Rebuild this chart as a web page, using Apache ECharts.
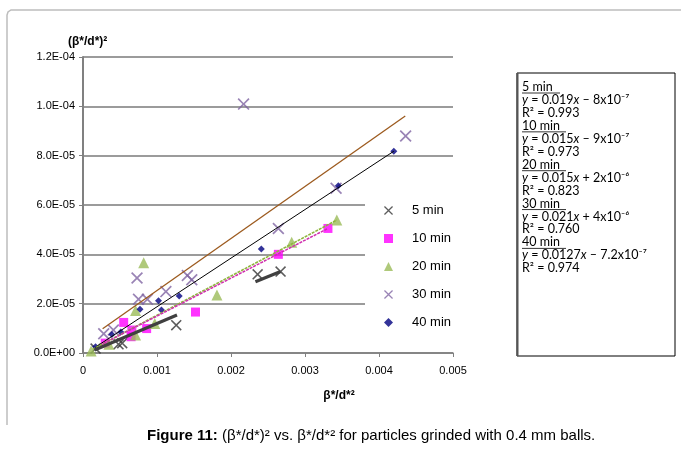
<!DOCTYPE html>
<html>
<head>
<meta charset="utf-8">
<style>
  html, body { margin: 0; padding: 0; background: #fff; }
  #chart { width: 681px; height: 454px; }
</style>
<script src="https://cdn.jsdelivr.net/npm/echarts@6/dist/echarts.min.js"></script>
</head>
<body>
<div id="chart"></div>
<script>
  // points: [beta*/d*^2, (beta*/d*)^2]
  var min5 = [[0.00017, 0.18e-5], [0.00048, 0.35e-5], [0.00053, 0.40e-5], [0.00126, 1.13e-5], [0.00236, 3.19e-5], [0.00267, 3.30e-5]];
  var min10 = [[0.00030, 0.40e-5], [0.00055, 1.24e-5], [0.00065, 0.66e-5], [0.00066, 0.93e-5], [0.00086, 0.99e-5], [0.00152, 1.66e-5], [0.00264, 4.00e-5], [0.00331, 5.05e-5]];
  var min20 = [[0.00011, 0.08e-5], [0.00035, 0.35e-5], [0.00071, 0.73e-5], [0.00071, 1.72e-5], [0.00082, 3.66e-5], [0.00097, 1.20e-5], [0.00181, 2.35e-5], [0.00282, 4.49e-5], [0.00343, 5.39e-5]];
  var min30 = [[0.00028, 0.78e-5], [0.00041, 0.93e-5], [0.00073, 3.04e-5], [0.00075, 2.18e-5], [0.00087, 2.18e-5], [0.00112, 2.49e-5], [0.00141, 3.14e-5], [0.00147, 2.97e-5], [0.00217, 10.09e-5], [0.00264, 5.05e-5], [0.00342, 6.68e-5], [0.00436, 8.80e-5]];
  var min40 = [[0.00017, 0.25e-5], [0.00039, 0.75e-5], [0.00051, 0.85e-5], [0.00077, 1.77e-5], [0.00102, 2.12e-5], [0.00106, 1.74e-5], [0.00130, 2.31e-5], [0.00241, 4.22e-5], [0.00345, 6.78e-5], [0.00420, 8.18e-5]];

  // trend line ends as drawn in the figure (5 min line is shown in two pieces)
  var trend5 = [[[0.000157, 0.12e-5], [0.00127, 1.54e-5]], [[0.00233, 2.89e-5], [0.00267, 3.30e-5]]];
  var trend10 = [[[0.00028, 0.39e-5], [0.00331, 5.05e-5]]];
  var trend20 = [[[0.00013, 0.15e-5], [0.00343, 5.39e-5]]];
  var trend30 = [[[0.000265, 0.98e-5], [0.004355, 9.61e-5]]];
  var trend40 = [[[0.00017, 0.24e-5], [0.00420, 8.18e-5]]];

  var seriesNames = ['5 min', '10 min', '20 min', '30 min', '40 min'];

  var boxLines = [
    ['5 min', 'h'], ['{i|y} = 0.019{i|x} – 8x10⁻⁷'], ['R² = 0.993'],
    ['10 min', 'h'], ['{i|y} = 0.015{i|x} – 9x10⁻⁷'], ['R² = 0.973'],
    ['20 min', 'h'], ['{i|y} = 0.015{i|x} + 2x10⁻⁶'], ['R² = 0.823'],
    ['30 min', 'h'], ['{i|y} = 0.021{i|x} + 4x10⁻⁶'], ['R² = 0.760'],
    ['40 min', 'h'], ['{i|y} = 0.0127{i|x} – 7.2x10⁻⁷'], ['R² = 0.974']
  ];

  var crossPath = 'path://M1,0L5,4L9,0L10,1L6,5L10,9L9,10L5,6L1,10L0,9L4,5L0,1Z';
  var font = '"Liberation Sans", Arial, sans-serif';

  var chart = echarts.init(document.getElementById('chart'));

  function sci(v) {
    if (v === 0) return '0.0E+00';
    var parts = v.toExponential(1).split('e');
    var n = parseInt(parts[1], 10);
    return parts[0] + 'E' + (n < 0 ? '-' : '+') + String(Math.abs(n)).padStart(2, '0');
  }

  function scatter(name, data, symbol, size, color) {
    return {
      name: name, type: 'scatter', data: data, symbol: symbol, symbolSize: size,
      itemStyle: { color: color }, z: 3
    };
  }

  function trend(segs, color, width, type) {
    return segs.map(function (seg) {
      return {
        type: 'line', data: seg, symbol: 'none', silent: true, z: 4,
        lineStyle: { color: color, width: width, type: type || 'solid' }
      };
    });
  }

  var series = [
    scatter('5 min', min5, crossPath, 11, '#333333'),
    scatter('10 min', min10, 'rect', 9, '#ff00ff'),
    scatter('20 min', min20, 'triangle', 11, '#9bbb59'),
    scatter('30 min', min30, crossPath, 12, '#8064a2'),
    scatter('40 min', min40, 'diamond', 7, '#000080')
  ]
    .concat(trend(trend30, '#9c5a1e', 1.3))
    .concat(trend(trend40, '#000000', 1))
    .concat(trend(trend20, '#8fb53e', 1.6, [3, 1]))
    .concat(trend(trend10, '#d02fae', 1.5, [3, 1]))
    .concat(trend(trend5, '#404040', 3.2));

  // frame and equation box
  var graphics = [
    {
      type: 'polyline', silent: true,
      shape: { points: [[7, 425], [7, 15], [8, 12], [11, 10], [681, 10]] },
      style: { stroke: '#bdbdbd', lineWidth: 1.5, fill: null }
    },
    {
      type: 'rect', silent: true,
      shape: { x: 517, y: 73, width: 158, height: 283 },
      style: { fill: '#fff', stroke: '#000', lineWidth: 1 }
    },
    {
      type: 'line', silent: true,
      shape: { x1: 517.5, y1: 73, x2: 517.5, y2: 356 },
      style: { stroke: '#555', lineWidth: 2 }
    }
  ];
  var underlineW = { '5 min': 38, '10 min': 44, '20 min': 44, '30 min': 44, '40 min': 44 };
  boxLines.forEach(function (ln, i) {
    var y = 87 + i * 12.95;
    graphics.push({
      type: 'text', silent: true, x: 522, y: y,
      style: {
        text: ln[0], fill: '#000', font: '12.5px Lato, "Liberation Sans", sans-serif',
        verticalAlign: 'middle',
        rich: { i: { fontStyle: 'italic', fontSize: 12.5, fontFamily: 'Lato', verticalAlign: 'middle' } }
      }
    });
    if (ln[1] === 'h') {
      graphics.push({
        type: 'line', silent: true,
        shape: { x1: 522, y1: y + 6, x2: 522 + underlineW[ln[0]], y2: y + 6 },
        style: { stroke: '#000', lineWidth: 0.8 }
      });
    }
  });
  graphics.push({
    type: 'text', silent: true, left: 147, top: 428,
    style: {
      text: '{b|Figure 11:} (β*/d*)² vs. β*/d*² for particles grinded with 0.4 mm balls.',
      fill: '#000', font: '15px ' + font,
      rich: { b: { fontWeight: 'bold', fontSize: 15, fontFamily: 'Liberation Sans' } }
    }
  });

  var option = {
    backgroundColor: '#fff',
    animation: false,
    textStyle: { fontFamily: font },
    grid: { left: 83, right: 228, top: 57, bottom: 101 },
    legend: {
      data: seriesNames,
      orient: 'vertical',
      left: 365, top: 192,
      padding: [12, 10, 12, 19],
      backgroundColor: '#fff',
      itemWidth: 9, itemHeight: 9, itemGap: 15,
      textStyle: { fontSize: 13, color: '#000', padding: [0, 0, 0, 14] }
    },
    xAxis: {
      type: 'value', min: 0, max: 0.005, interval: 0.001,
      name: 'β*/d*²', nameLocation: 'middle', nameGap: 37,
      nameTextStyle: { fontWeight: 'bold', fontSize: 12, color: '#000', padding: [0, 0, 0, 142] },
      axisLine: { show: true, lineStyle: { color: '#808080', width: 1.5 } },
      axisTick: { show: true, length: 4, lineStyle: { color: '#808080' } },
      splitLine: { show: false },
      axisLabel: {
        fontSize: 11, color: '#000', margin: 12,
        formatter: function (v) { return v === 0 ? '0' : v.toFixed(3); }
      }
    },
    yAxis: {
      type: 'value', min: 0, max: 1.2e-4, interval: 2e-5,
      name: '(β*/d*)²', nameLocation: 'end', nameGap: 9,
      nameTextStyle: { fontWeight: 'bold', fontSize: 12, color: '#000', align: 'left', padding: [0, 0, 0, -15] },
      axisLine: { show: true, lineStyle: { color: '#808080', width: 2 } },
      axisTick: { show: true, length: 4, lineStyle: { color: '#808080' } },
      splitLine: { show: true, lineStyle: { color: '#7a7a7a', width: 1.5 } },
      axisLabel: { fontSize: 11, color: '#000', margin: 8, formatter: sci }
    },
    graphic: graphics,
    series: series
  };

  chart.setOption(option);
</script>
</body>
</html>
